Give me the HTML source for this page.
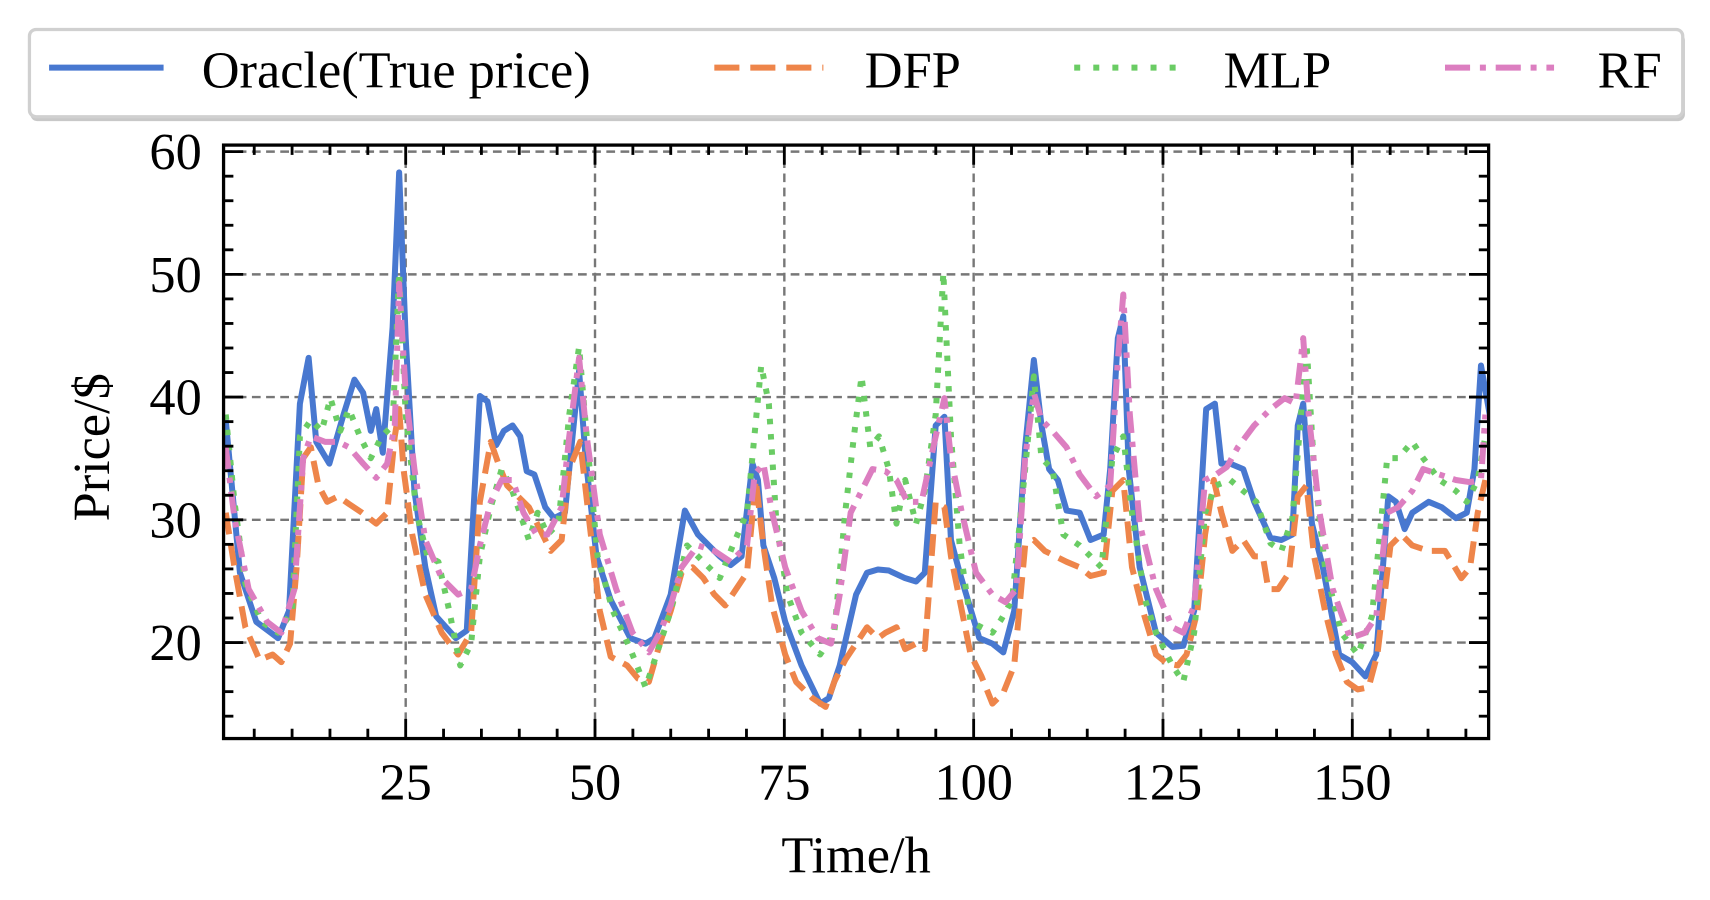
<!DOCTYPE html>
<html><head><meta charset="utf-8"><style>
html,body{margin:0;padding:0;background:#fff;width:1710px;height:900px;overflow:hidden}
svg{display:block}
text{font-family:"Liberation Serif",serif;fill:#000}
</style></head><body>
<svg id="s" width="1710" height="900" viewBox="0 0 1568 825" preserveAspectRatio="none" xmlns="http://www.w3.org/2000/svg">
<defs><clipPath id="c"><rect x="205" y="133" width="1160" height="544"/></clipPath></defs>
<rect x="0" y="0" width="1568" height="825" fill="#fff"/>
<!-- legend -->
<rect x="28" y="31" width="1517" height="80" rx="6" fill="#c8c8c8"/>
<rect x="27" y="27" width="1516" height="80" rx="6" fill="#fff" stroke="#d0d0d0" stroke-width="3"/>
<line x1="45" y1="62" x2="150" y2="62" stroke="#4878d0" stroke-width="5.5"/>
<text x="185" y="80" font-size="48">Oracle(True price)</text>
<line x1="655" y1="62" x2="755" y2="62" stroke="#ee854a" stroke-width="5.5" stroke-dasharray="23 10"/>
<text x="793" y="80" font-size="48">DFP</text>
<line x1="985" y1="62" x2="1085" y2="62" stroke="#6acc64" stroke-width="5.5" stroke-dasharray="5.5 12"/>
<text x="1122" y="80" font-size="48">MLP</text>
<line x1="1325" y1="62" x2="1425" y2="62" stroke="#dc7ec0" stroke-width="5.5" stroke-dasharray="23 9 5.5 9"/>
<text x="1465" y="80" font-size="48">RF</text>
<g id="grid"></g>
<g id="series" clip-path="url(#c)" fill="none" stroke-linejoin="round"></g>
<g id="ticks"></g>
<rect x="205" y="133" width="1160" height="544" fill="none" stroke="#000" stroke-width="3"/>
<text x="100" y="410" font-size="48" text-anchor="middle" transform="rotate(-90 100 410)">Price/$</text>
<text x="785" y="800" font-size="48" text-anchor="middle">Time/h</text>
</svg>
<script>
var NS="http://www.w3.org/2000/svg";
function el(p,t,a,txt){var e=document.createElementNS(NS,t);for(var k in a)e.setAttribute(k,a[k]);if(txt!=null)e.textContent=txt;p.appendChild(e);return e;}
var g=document.getElementById('grid'),tk=document.getElementById('ticks'),sr=document.getElementById('series');
function X(t){return 198.4+6.944*t;}function Y(v){return 589-11.25*(v-20);}
var L=205,R=1365,T=133,B=677;
for(var t=25;t<=150;t+=25){var x=X(t);el(g,'line',{x1:x,y1:T,x2:x,y2:B,stroke:'#777','stroke-width':2.2,'stroke-dasharray':'8 5'});
el(tk,'text',{x:x,y:733,'font-size':48,'text-anchor':'middle'},String(t));}
for(var v=20;v<=60;v+=10){var y=Y(v);el(g,'line',{x1:L,y1:y,x2:R,y2:y,stroke:'#777','stroke-width':2.2,'stroke-dasharray':'8 5'});
el(tk,'text',{x:185,y:y+16,'font-size':48,'text-anchor':'end'},String(v));}
for(var t=5;t<=165;t+=5){var x=X(t),len=(t%25==0)?18:9;
el(tk,'line',{x1:x,y1:B,x2:x,y2:B-len,stroke:'#000','stroke-width':2.6});
el(tk,'line',{x1:x,y1:T,x2:x,y2:T+len,stroke:'#000','stroke-width':2.6});}
for(var v=14;v<=60;v+=2){var y=Y(v),len=(v%10==0)?18:9;
el(tk,'line',{x1:L,y1:y,x2:L+len,y2:y,stroke:'#000','stroke-width':2.6});
el(tk,'line',{x1:R,y1:y,x2:R-len,y2:y,stroke:'#000','stroke-width':2.6});}
var dfp="207,470 215,520 225,575 238,605 250,600 258,607 266,590 272,520 278,420 285,410 292,445 300,460 310,455 320,462 332,470 345,480 355,470 362,400 366,375 370,430 378,490 390,545 405,580 420,600 432,580 440,460 450,405 457,425 465,445 475,455 485,465 495,485 505,505 515,495 522,430 532,405 540,475 550,560 560,602 575,610 585,622 595,625 605,590 615,560 625,525 635,520 645,530 655,545 665,555 675,540 685,525 693,440 700,500 708,555 720,600 730,625 745,640 757,648 765,625 775,605 785,590 795,575 805,585 812,580 822,575 830,595 840,590 848,595 858,460 866,465 872,510 880,550 890,600 900,620 910,645 920,635 930,610 940,500 948,495 958,505 968,510 978,515 990,520 1000,528 1012,525 1020,450 1030,440 1038,520 1048,560 1060,600 1070,608 1080,610 1088,600 1098,560 1105,490 1113,440 1120,470 1130,505 1140,495 1150,510 1158,510 1163,540 1172,540 1182,525 1190,455 1198,445 1205,510 1215,560 1225,600 1235,625 1245,632 1255,630 1263,600 1275,500 1285,490 1295,500 1310,505 1325,505 1340,530 1348,520 1355,470 1362,440";
var mlp="207,380 215,460 225,535 240,570 255,580 268,560 275,400 285,385 295,395 303,365 312,395 320,375 330,400 340,420 350,400 360,390 366,250 372,380 382,470 392,510 402,515 412,560 422,610 432,590 440,510 450,465 460,430 468,445 475,465 485,495 493,470 502,490 512,480 522,380 531,318 538,400 548,510 562,560 578,595 592,630 602,600 615,560 630,500 645,515 660,530 672,500 685,470 698,335 705,370 712,480 722,545 735,580 752,600 765,580 775,470 783,400 790,345 798,410 806,400 815,430 822,480 830,440 840,480 848,450 858,380 865,250 872,400 880,500 890,570 900,575 910,580 918,568 928,550 940,430 948,345 955,420 965,430 975,490 990,500 1000,510 1010,520 1020,420 1030,400 1038,470 1050,550 1060,580 1075,610 1085,625 1095,580 1105,470 1115,445 1128,440 1140,450 1152,460 1165,498 1175,505 1185,475 1193,380 1198,315 1205,430 1215,520 1230,580 1245,600 1258,565 1272,420 1282,420 1295,405 1305,420 1320,440 1335,450 1345,460 1355,440 1362,400";
var rf="207,410 215,475 228,540 245,570 258,580 270,540 278,420 285,400 298,405 310,405 320,410 333,425 345,438 355,425 362,390 366,260 372,360 380,430 390,495 405,530 420,545 432,540 440,500 450,460 460,440 470,440 480,470 492,490 502,490 515,465 522,400 531,328 538,400 550,490 565,540 580,580 595,598 605,580 615,555 625,520 640,500 655,505 670,515 685,500 692,435 700,425 708,470 720,520 735,560 750,585 762,590 770,545 780,470 790,450 800,430 812,432 822,440 832,460 845,460 858,400 866,365 872,420 882,470 895,525 910,545 922,552 932,540 940,420 948,360 955,385 965,395 978,410 990,435 1005,455 1018,445 1025,330 1030,270 1036,380 1045,480 1060,540 1075,575 1085,580 1095,555 1105,440 1115,435 1125,428 1135,410 1150,390 1165,375 1178,365 1188,370 1195,310 1200,380 1210,470 1222,540 1238,585 1252,580 1262,565 1272,470 1282,465 1295,450 1305,430 1320,435 1335,440 1348,442 1358,440 1362,380";
var ora="207,385 220,525 235,570 255,585 265,560 275,370 283,328 290,405 302,425 315,380 325,348 333,360 340,395 345,375 351,415 360,300 366,158 372,310 380,450 390,520 400,565 418,585 428,578 440,363 447,368 455,408 462,395 470,390 477,400 483,432 490,435 500,465 508,475 518,470 525,400 531,340 537,420 547,510 560,550 578,585 592,590 600,585 615,545 628,468 640,490 650,500 660,510 670,518 680,510 690,425 695,440 700,500 710,530 720,570 735,610 752,645 760,640 770,610 785,545 795,525 805,522 815,523 830,530 840,533 848,525 858,390 866,382 872,495 880,525 898,585 910,590 920,598 930,560 940,410 948,330 955,390 962,430 970,440 978,468 990,470 1000,495 1012,490 1018,430 1025,310 1030,290 1035,430 1045,520 1060,580 1075,593 1085,592 1095,560 1106,375 1114,370 1120,425 1128,425 1140,430 1150,460 1165,493 1175,495 1185,490 1190,390 1195,370 1203,480 1213,520 1228,600 1240,607 1252,620 1262,600 1273,455 1280,460 1288,485 1295,470 1310,460 1322,465 1335,475 1345,470 1352,430 1358,335 1366,380";
el(sr,'polyline',{points:ora,stroke:'#4878d0','stroke-width':5.5});
el(sr,'polyline',{points:dfp,stroke:'#ee854a','stroke-width':5.5,'stroke-dasharray':'20 9'});
el(sr,'polyline',{points:mlp,stroke:'#6acc64','stroke-width':5.5,'stroke-dasharray':'5 9'});
el(sr,'polyline',{points:rf,stroke:'#dc7ec0','stroke-width':5.5,'stroke-dasharray':'20 8 5 8'});
</script>
</body></html>
